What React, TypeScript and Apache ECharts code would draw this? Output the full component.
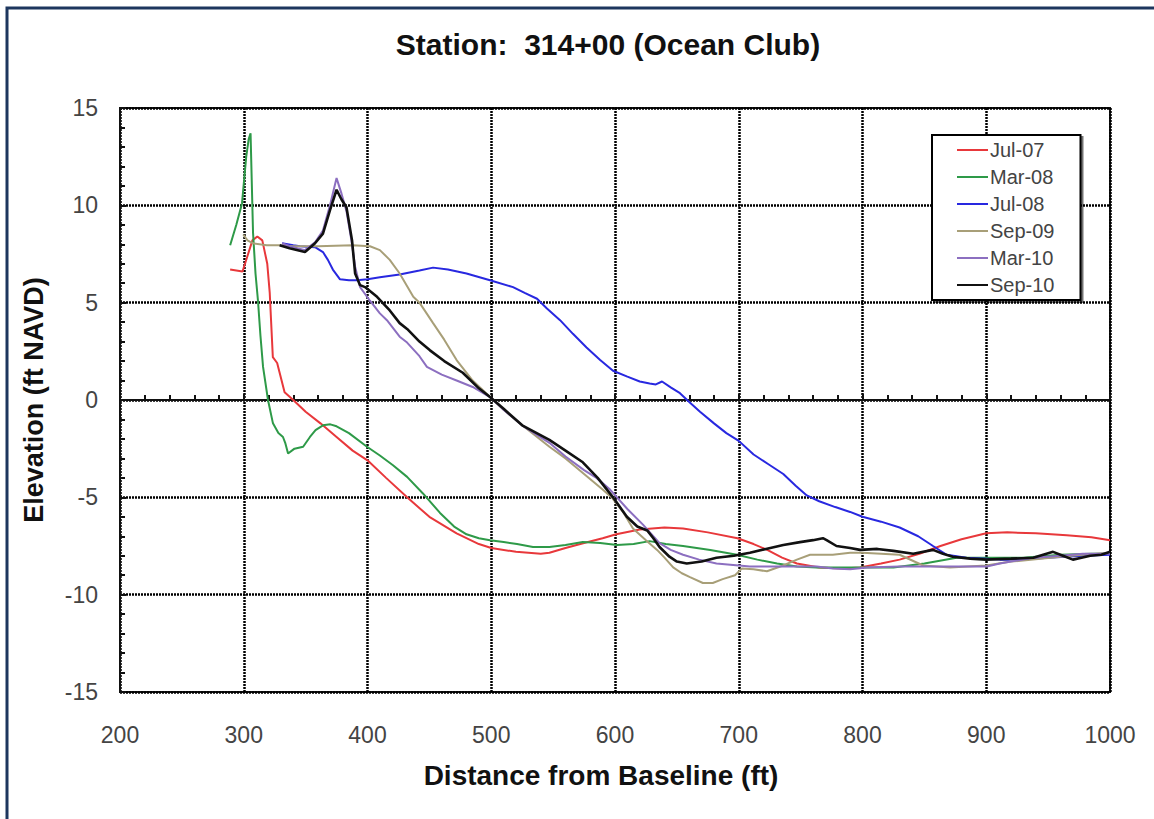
import React, { useEffect, useRef } from "react";
import * as echarts from "echarts";

const seriesNames = ["Jul-07", "Mar-08", "Jul-08", "Sep-09", "Mar-10", "Sep-10"];
const seriesColors = ["#e8383b", "#2e9a48", "#2828e0", "#a89f78", "#8c6fc0", "#111111"];

const xTicks = { min: 200, max: 1000, step: 100 };
const yTicks = { min: -15, max: 15, step: 5 };

const jul07: number[][] = [
  [289, 6.7], [299, 6.6], [303, 7.4], [307, 8.2], [311, 8.4], [315, 8.2], [319, 7.0], [321, 5.5],
  [323.5, 2.2], [327, 1.9], [329, 1.4], [333, 0.4], [340, 0], [350, -0.6], [362, -1.2], [375, -1.9],
  [388, -2.6], [400, -3.1], [415, -4.0], [432, -5.0], [450, -6.0], [472, -6.85], [490, -7.4],
  [500, -7.6], [520, -7.8], [540, -7.9], [547, -7.85], [560, -7.6], [575, -7.35], [590, -7.1],
  [601, -6.9], [620, -6.65], [640, -6.55], [655, -6.6], [675, -6.8], [699, -7.1], [712, -7.4],
  [723, -7.7], [735, -8.1], [747, -8.4], [765, -8.6], [784, -8.65], [798, -8.6], [815, -8.4],
  [830, -8.2], [846, -7.9], [863, -7.5], [880, -7.15], [900, -6.85], [917, -6.8], [940, -6.85],
  [965, -6.95], [985, -7.05], [1000, -7.2],
];

const mar08: number[][] = [
  [289, 7.95], [294, 9.0], [298.6, 10.1], [302, 12.5], [304, 13.4], [305.5, 13.7], [307.5, 8.6],
  [309.5, 6.5], [311.5, 5.1], [313.5, 3.3], [315.6, 1.7], [319.6, 0], [323.6, -1.2], [328, -1.7],
  [331.7, -1.9], [333.5, -2.2], [335.8, -2.75], [341, -2.5], [348, -2.4], [353.5, -1.9],
  [358, -1.55], [364, -1.3], [370, -1.25], [375, -1.35], [385, -1.7], [399.6, -2.4], [410, -2.85],
  [420.6, -3.35], [432, -3.95], [444.8, -4.8], [458.6, -5.8], [470, -6.5], [480, -6.9], [490, -7.1],
  [499, -7.2], [510, -7.3], [520.8, -7.4], [533.7, -7.55], [547, -7.55], [560, -7.45], [574, -7.3],
  [588, -7.35], [601.6, -7.45], [615, -7.4], [628, -7.25], [641, -7.4], [655, -7.5], [677, -7.7],
  [698.6, -7.95], [715, -8.2], [731, -8.4], [747, -8.55], [763, -8.6], [785, -8.6], [805, -8.6],
  [825, -8.6], [850, -8.4], [876, -8.1], [900, -8.1], [930, -8.1], [960, -7.95], [985, -7.9],
  [1000, -7.9],
];

const jul08: number[][] = [
  [331, 8.05], [340, 7.95], [345.5, 7.9], [357.6, 7.85], [364, 7.6], [368, 7.2], [372, 6.7],
  [377.8, 6.2], [385, 6.15], [391.5, 6.15], [400, 6.2], [410, 6.3], [426, 6.45], [442, 6.65],
  [453, 6.8], [465, 6.7], [480, 6.5], [499, 6.15], [517.6, 5.8], [527, 5.5], [537, 5.2], [545, 4.7],
  [555.6, 4.1], [566, 3.4], [577, 2.7], [588, 2.05], [598.4, 1.5], [610, 1.2], [620, 0.95],
  [628, 0.85], [633, 0.8], [638, 0.95], [645, 0.65], [652.5, 0.35], [660, -0.1], [668.7, -0.6],
  [680, -1.2], [690, -1.7], [700, -2.1], [712, -2.8], [724, -3.3], [736, -3.8], [746, -4.4],
  [755, -4.9], [765, -5.2], [778, -5.5], [790, -5.75], [800, -6.0], [815, -6.25], [830, -6.55],
  [845, -7.0], [857, -7.5], [868, -7.95], [884, -8.1], [900, -8.15], [911, -8.2], [930, -8.2],
  [950, -8.1], [978, -8.0], [1000, -7.95],
];

const sep09: number[][] = [
  [299.6, 8.5], [303, 8.2], [307.6, 8.05], [318.6, 7.95], [329, 7.95], [340, 7.9], [360, 7.9],
  [388, 7.95], [402, 7.9], [410, 7.7], [418, 7.2], [426, 6.5], [437, 5.3], [442, 5.0], [453, 3.95],
  [462, 3.1], [472, 2.05], [485, 1.0], [499, 0.15], [510, -0.5], [525, -1.3], [547, -2.4],
  [560, -3.0], [575, -3.8], [590, -4.6], [598, -5.05], [607, -5.8], [614.5, -6.6], [625, -7.2],
  [634, -7.7], [640, -8.1], [647, -8.6], [654, -8.9], [660.6, -9.1], [671, -9.4], [679, -9.4],
  [687, -9.2], [697, -9.0], [702.6, -8.65], [712, -8.7], [722.8, -8.8], [735.8, -8.5], [747, -8.2],
  [757.6, -7.95], [776, -7.95], [790, -7.85], [800, -7.85], [815, -7.9], [830, -7.95], [849, -8.5],
  [870.7, -8.6], [885, -8.55], [900, -8.5], [920, -8.3], [937.8, -8.2], [960, -8.05], [978, -7.95],
  [1000, -7.85],
];

const mar10: number[][] = [
  [331, 8.05], [337, 7.9], [349.5, 7.7], [357.6, 8.1], [364, 8.7], [369.7, 10.0], [375, 11.4],
  [379, 10.6], [383, 9.7], [387, 8.2], [390, 6.85], [394, 5.8], [402, 5.1], [410, 4.45],
  [415.7, 4.1], [426, 3.25], [432, 2.95], [442, 2.25], [448, 1.7], [460, 1.3], [472, 1.0],
  [485, 0.67], [499, 0.15], [510, -0.5], [525, -1.3], [547, -2.2], [560, -2.9], [575, -3.6],
  [585, -4.0], [596, -4.6], [610, -5.6], [622.6, -6.4], [636, -7.35], [645, -7.7], [655, -7.95],
  [668, -8.2], [682, -8.4], [709, -8.55], [736, -8.55], [763, -8.55], [776, -8.65], [790, -8.7],
  [803.6, -8.6], [830, -8.55], [857, -8.55], [880, -8.55], [900.4, -8.55], [911, -8.4], [938, -8.1],
  [960, -8.0], [978, -7.9], [1000, -7.9],
];

const sep10: number[][] = [
  [329, 7.95], [337, 7.8], [349.5, 7.6], [357.6, 8.05], [364, 8.55], [369.7, 9.75], [375, 10.8],
  [379, 10.3], [383, 9.9], [387.5, 8.2], [390, 6.5], [394, 5.9], [398, 5.8], [407.7, 5.3],
  [418, 4.6], [426, 3.95], [432, 3.65], [442, 3.0], [450.5, 2.55], [462, 2.0], [477, 1.4],
  [490, 0.6], [499, 0.15], [510, -0.45], [525, -1.3], [547, -2.05], [560, -2.6], [574, -3.2],
  [586, -4.0], [598.4, -5.0], [609.6, -6.0], [618, -6.5], [626, -6.7], [631, -7.1], [636, -7.55],
  [644, -8.05], [650, -8.3], [658, -8.4], [670, -8.3], [682, -8.1], [696, -8.0], [709, -7.85],
  [722, -7.65], [736, -7.45], [749.5, -7.3], [760, -7.2], [768, -7.1], [771, -7.2], [779, -7.5],
  [790, -7.6], [798, -7.7], [812, -7.65], [825, -7.75], [841, -7.9], [857, -7.7], [865, -7.9],
  [873, -8.05], [887, -8.15], [900, -8.2], [920, -8.15], [938, -8.1], [954, -7.8], [962, -8.0],
  [970, -8.2], [977, -8.1], [984, -8.0], [993, -7.95], [1000, -7.8],
];

const seriesData = [jul07, mar08, jul08, sep09, mar10, sep10];
const lineWidths = [2, 2, 2, 2, 2, 2.6];

const FONT = "'Liberation Sans', Arial, sans-serif";

export default function App() {
  const ref = useRef<HTMLDivElement>(null);

  useEffect(() => {
    if (!ref.current) return;
    const chart = echarts.init(ref.current, undefined, { renderer: "svg" });
    const gridLine = { show: true, lineStyle: { color: "#000", width: 2.5, type: [2, 1] as any } };
    chart.setOption({
      animation: false,
      backgroundColor: "#ffffff",
      title: {
        text: "Station:  314+00 (Ocean Club)",
        left: 603,
        top: 24,
        textAlign: "center",
        textStyle: { fontFamily: FONT, fontSize: 30, fontWeight: "bold", color: "#111" },
      },
      graphic: [
        {
          type: "rect",
          silent: true,
          shape: { x: 7, y: 8, width: 1160, height: 840 },
          style: { fill: "none", stroke: "#1d365e", lineWidth: 3 },
        },
      ],
      legend: {
        orient: "vertical",
        left: 932,
        top: 135,
        padding: [5, 26, 5, 25],
        icon: "rect",
        itemWidth: 31,
        itemHeight: 2,
        itemGap: 7,
        borderColor: "#000",
        borderWidth: 2,
        backgroundColor: "#fff",
        shadowColor: "rgba(0,0,0,0.55)",
        shadowOffsetX: 2,
        shadowOffsetY: 2,
        shadowBlur: 0,
        textStyle: { fontFamily: FONT, fontSize: 20, lineHeight: 20, color: "#444", padding: [0, 0, 0, -3] },
        data: seriesNames,
      },
      grid: { left: 120, right: 44, top: 108, bottom: 127, show: true, borderColor: "#111", borderWidth: 2 },
      xAxis: {
        type: "value",
        min: xTicks.min,
        max: xTicks.max,
        interval: xTicks.step,
        name: "Distance from Baseline (ft)",
        nameLocation: "middle",
        nameGap: 69,
        nameTextStyle: {
          fontFamily: FONT,
          fontSize: 28,
          fontWeight: "bold",
          color: "#111",
          padding: [0, 28, 0, 0],
        },
        axisLine: { show: true, lineStyle: { color: "#111", width: 2 } },
        axisTick: { show: true, inside: true, length: 6, lineStyle: { color: "#111", width: 2 } },
        minorTick: { show: true, splitNumber: 5, length: 5, lineStyle: { color: "#111", width: 2 } },
        axisLabel: {
          fontFamily: FONT,
          fontSize: 23,
          color: "#444",
          margin: 31,
          formatter: (v: number) => String(v),
        },
        splitLine: gridLine,
      },
      yAxis: {
        type: "value",
        min: yTicks.min,
        max: yTicks.max,
        interval: yTicks.step,
        name: "Elevation (ft NAVD)",
        nameLocation: "middle",
        nameGap: 73,
        nameTextStyle: { fontFamily: FONT, fontSize: 27, fontWeight: "bold", color: "#111" },
        axisLine: { show: true, lineStyle: { color: "#111", width: 2 } },
        axisTick: { show: true, inside: true, length: 6, lineStyle: { color: "#111", width: 2 } },
        minorTick: { show: true, splitNumber: 5, length: 5, lineStyle: { color: "#111", width: 2 } },
        axisLabel: { fontFamily: FONT, fontSize: 23, color: "#444", margin: 22 },
        splitLine: gridLine,
      },
      series: seriesNames.map((name, i) => ({
        name,
        type: "line",
        data: seriesData[i],
        symbol: "none",
        smooth: false,
        color: seriesColors[i],
        lineStyle: { color: seriesColors[i], width: lineWidths[i] },
        z: 2 + i,
      })),
    });
    return () => chart.dispose();
  }, []);

  return (
    <div
      ref={ref}
      style={{ position: "absolute", left: 0, top: 0, width: 1154, height: 819 }}
    />
  );
}
